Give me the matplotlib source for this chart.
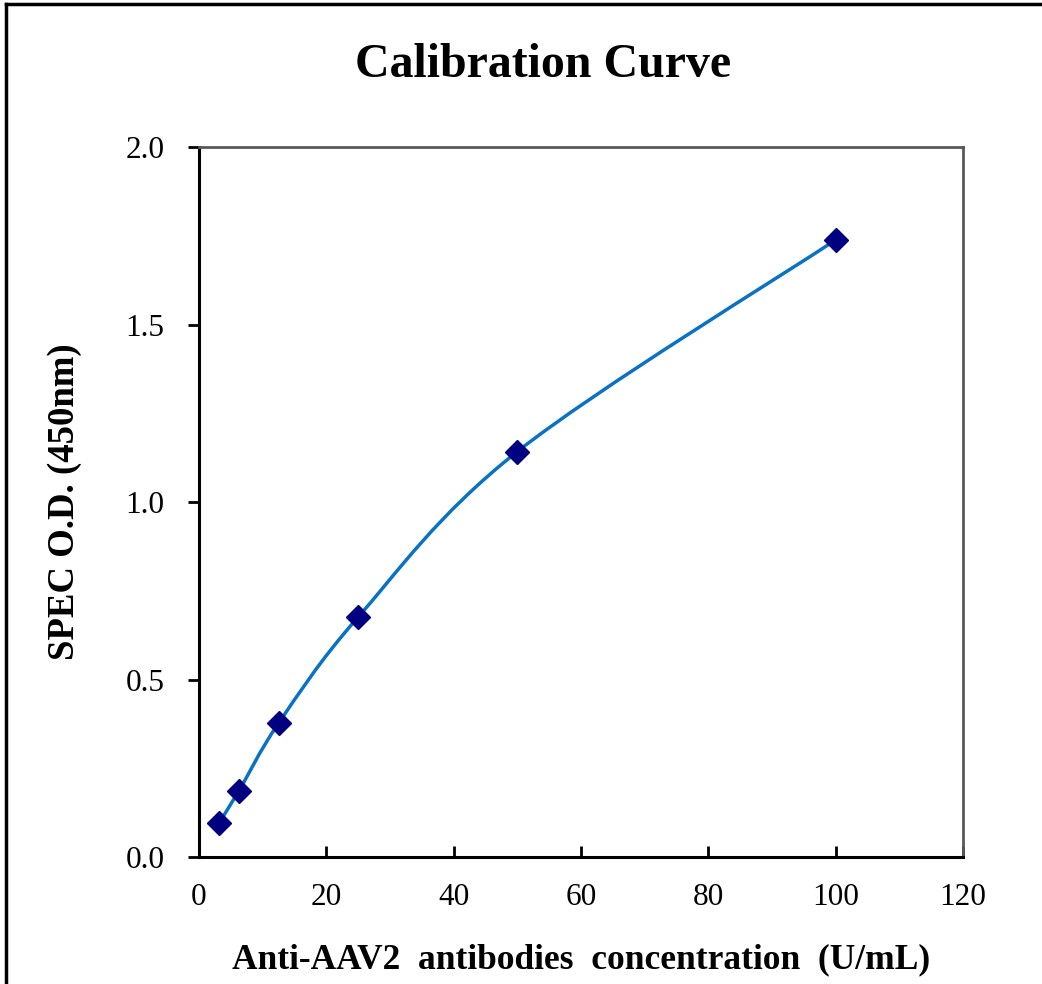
import numpy as np
import matplotlib
matplotlib.use("Agg")
import matplotlib.pyplot as plt
from matplotlib.path import Path
from matplotlib.patches import PathPatch
from matplotlib.lines import Line2D

# calibration standards (U/mL) and measured optical density
conc = [3.125, 6.25, 12.5, 25, 50, 100]
od = [0.096, 0.186, 0.377, 0.676, 1.142, 1.738]

x_ticks = [0, 20, 40, 60, 80, 100, 120]
y_ticks = [0.0, 0.5, 1.0, 1.5, 2.0]

plt.rcParams['font.family'] = ['Liberation Serif', 'DejaVu Serif']


def smooth_path(xs, ys):
    # Excel-style smoothed line: cubic Bezier segments, Catmull-Rom tangents
    p = np.column_stack([xs, ys]).astype(float)
    n = len(p)
    verts = [p[0]]
    codes = [Path.MOVETO]
    for i in range(n - 1):
        prev = p[i - 1] if i > 0 else p[i]
        nxt = p[i + 2] if i + 2 < n else p[i + 1]
        c1 = p[i] + (p[i + 1] - prev) / 6
        c2 = p[i + 1] - (nxt - p[i]) / 6
        verts += [c1, c2, p[i + 1]]
        codes += [Path.CURVE4] * 3
    return Path(verts, codes)


fig = plt.figure(figsize=(10.42, 9.84), dpi=100)
ax = fig.add_axes([0.191, 0.129, 0.733, 0.7216])

line_col = '#0a72c4'
ax.add_patch(PathPatch(smooth_path(conc, od), facecolor='none',
                       edgecolor=line_col, lw=2.5, zorder=2))
ax.plot(conc, od, linestyle='none', marker='D', markersize=12,
        color='#000080', zorder=3)

ax.set_xlim(0, 120)
ax.set_ylim(0, 2.0)
ax.set_xticks(x_ticks)
ax.set_yticks(y_ticks)
ax.set_yticklabels([f"{v:.1f}" for v in y_ticks])

ax.tick_params(axis='x', direction='in', length=8, width=2, pad=19,
               labelsize=22.5)
ax.tick_params(axis='y', direction='out', length=8, width=2, pad=17,
               labelsize=22.5)

for s in ['left', 'bottom']:
    ax.spines[s].set_linewidth(2.2)
    ax.spines[s].set_color('black')
for s in ['top', 'right']:
    ax.spines[s].set_linewidth(2)
    ax.spines[s].set_color('#595959')

ax.set_xlabel("Anti-AAV2  antibodies  concentration  (U/mL)",
              fontsize=25.5, fontweight='bold', labelpad=22)
ax.set_ylabel("SPEC O.D. (450nm)", fontsize=26.5, fontweight='bold',
              labelpad=31)

fig.text(0.521, 0.934, "Calibration Curve", ha='center', va='center',
         fontsize=34.5, fontweight='bold')

# outer frame (only top and left edges visible in the crop)
fig.add_artist(Line2D([0.006, 1.0], [0.996, 0.996], transform=fig.transFigure,
                      color='black', lw=2.5))
fig.add_artist(Line2D([0.006, 0.006], [0.0, 0.996], transform=fig.transFigure,
                      color='black', lw=2.5))

fig.savefig("out.png", dpi=100)
